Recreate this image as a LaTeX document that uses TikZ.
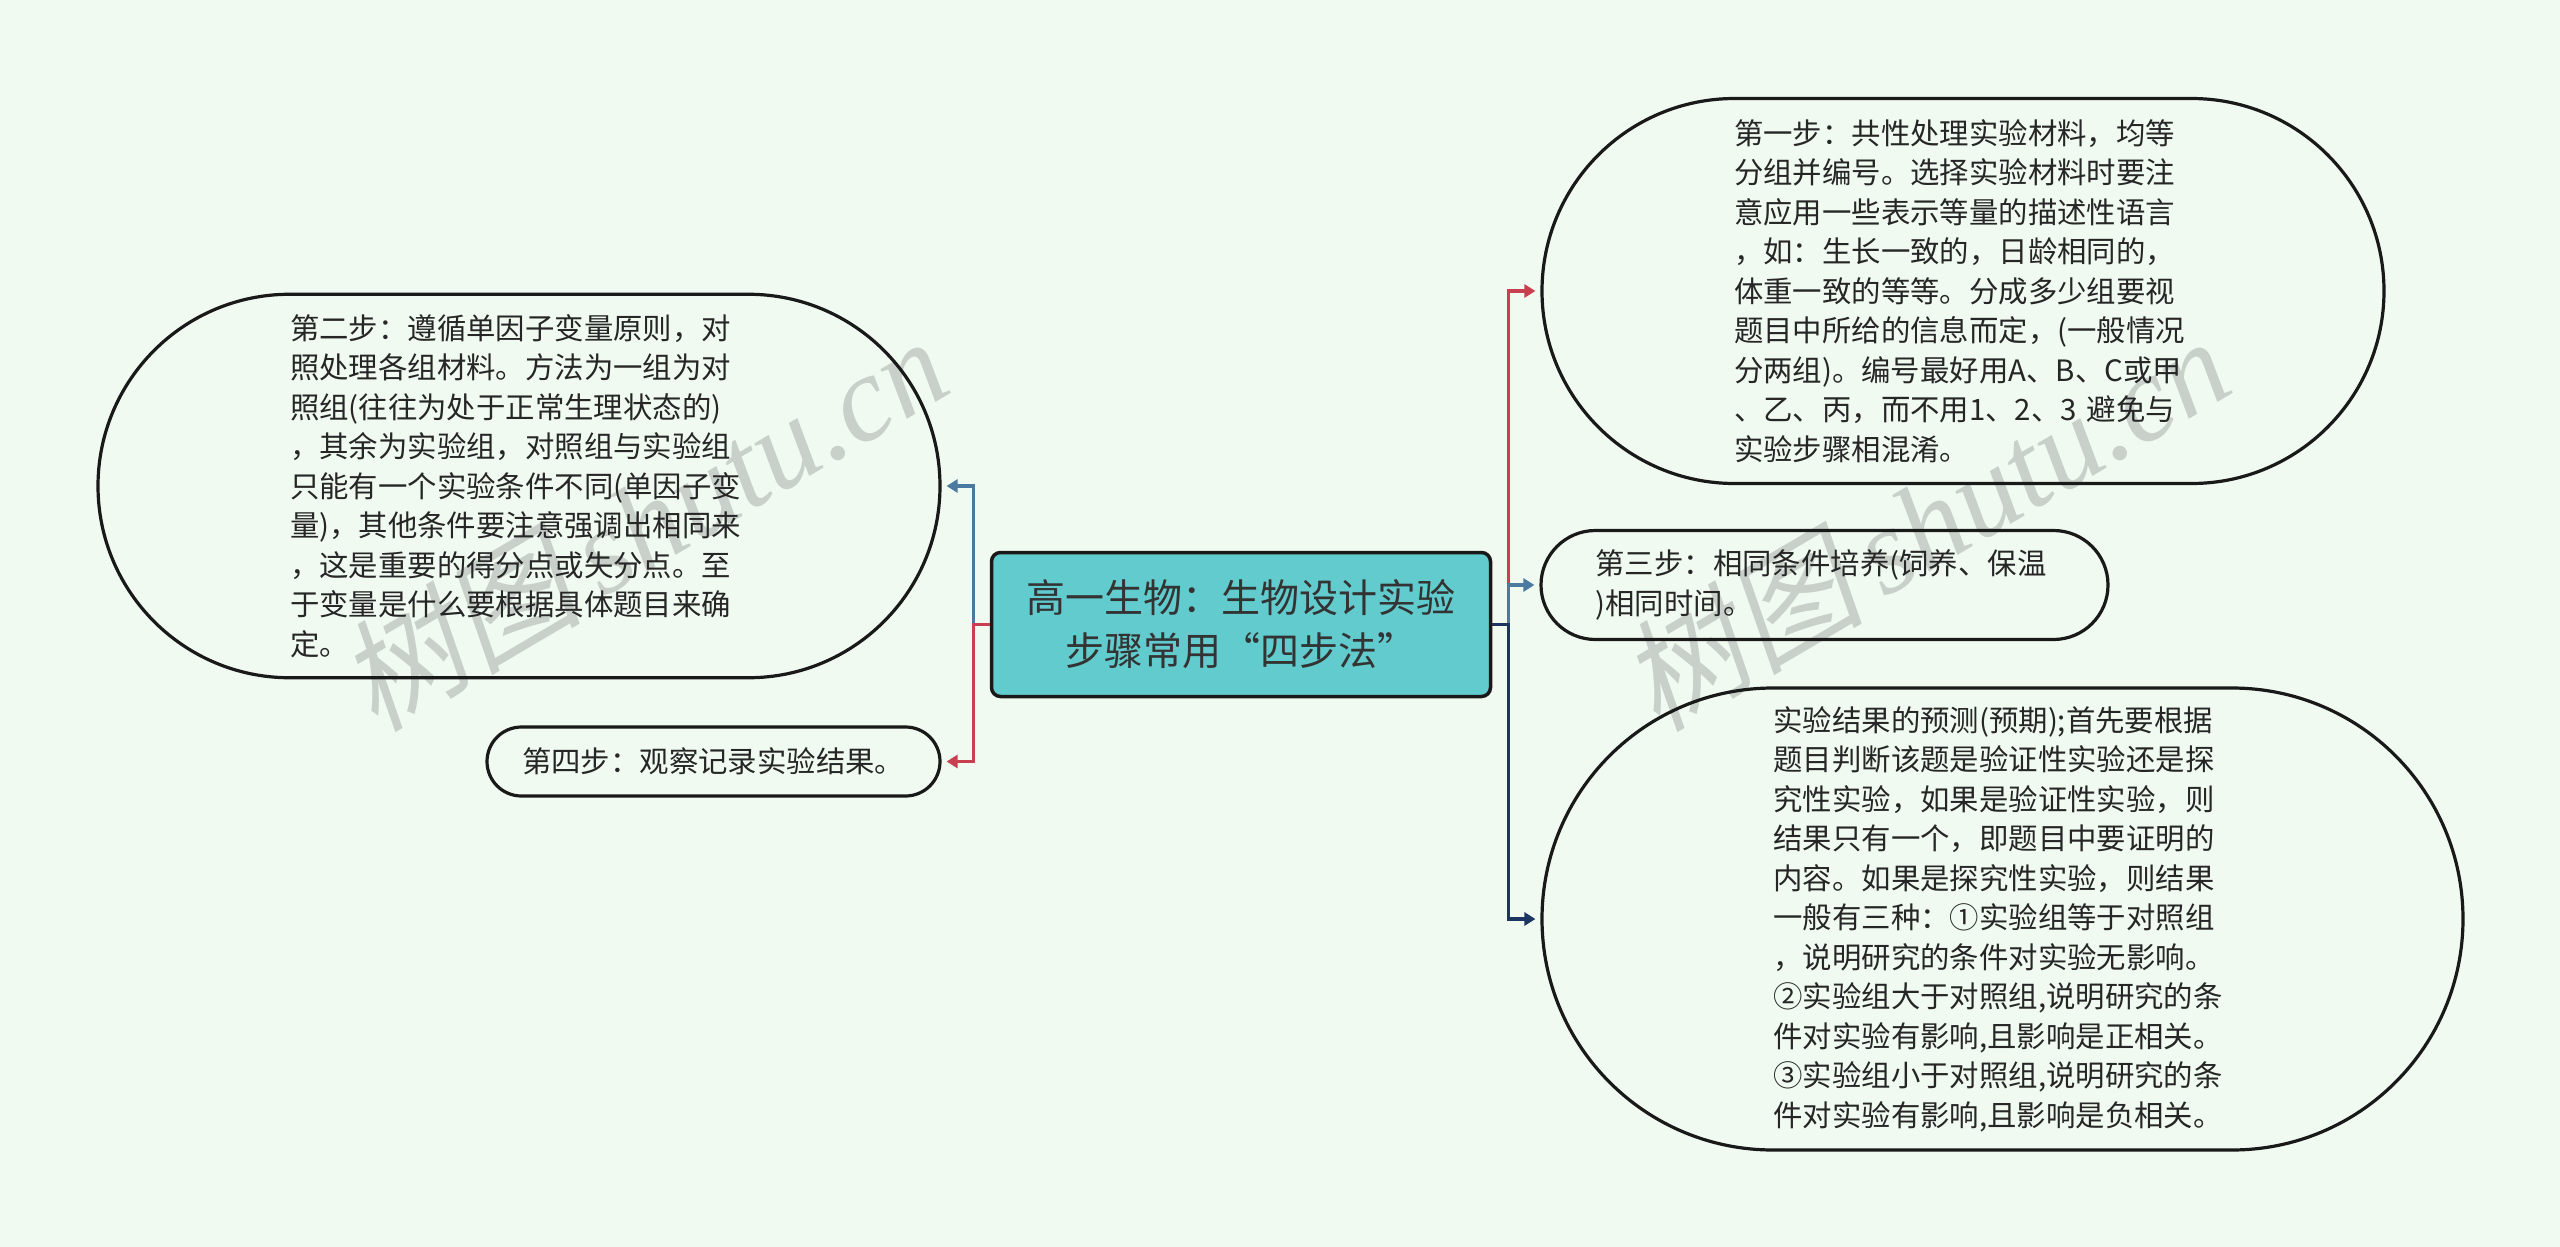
\documentclass[tikz,border=0pt]{standalone}
\usepackage{fontspec}
\setmainfont{Noto Sans CJK SC}
\newfontfamily\markcjk[FakeSlant=0.2]{Noto Sans CJK SC}
\newfontfamily\marklatin{Liberation Serif}[ItalicFont={Liberation Serif Italic}]
\usepackage{xcolor}
\usepackage{tikz}
\usetikzlibrary{arrows.meta, shapes.misc}
\newcommand{\fwc}{\char"FF0C\relax}
\newcommand{\fwk}{\char"FF1A\relax}
\definecolor{pagebg}{HTML}{F0FAF0}
\definecolor{rootfill}{HTML}{62CBCD}
\definecolor{linkred}{HTML}{C8404F}
\definecolor{linkblue}{HTML}{4A7A9F}
\definecolor{linknavy}{HTML}{1C3562}
\definecolor{markgrey}{HTML}{C8D0C9}
\tikzset{
  root/.style = {draw=black!90, fill=rootfill, rounded corners=9pt, line width=3.5pt,
    minimum width=499pt, minimum height=144pt, inner sep=0pt, align=center, text=black!80,
    font=\fontsize{39}{53}\selectfont},
  stepbox/.style = {rounded rectangle, draw=black!90, line width=3.2pt, inner sep=0pt,
    text width=458pt, align=left, text=black!85, font=\fontsize{29.4}{39.5}\selectfont},
  link/.style = {line width=3.4pt, -{Triangle[length=11pt,width=13pt]}, shorten >=5pt},
  markstamp/.style = {rotate=30.5, text=markgrey, inner sep=0pt, font=\fontsize{122}{126}\selectfont},
}
\begin{document}
\begin{tikzpicture}[x=1pt, y=-1pt]
  \path[fill=pagebg, use as bounding box] (0,0) rectangle (2560,1247);

  % watermark
  \node[markstamp] (mark1) at (642,522) {\markcjk 树图\,\marklatin\itshape shutu.cn};
  \node[markstamp] (mark2) at (1924,522) {\markcjk 树图\,\marklatin\itshape shutu.cn};

  \node[root] (topic) at (1241,624.5) {高一生物\fwk 生物设计实验\\步骤常用“四步法”};

  \node[stepbox, minimum width=842pt, minimum height=385pt] (first) at (1963,291) {%
    第一步\fwk 共性处理实验材料\fwc 均等\\
    分组并编号。选择实验材料时要注\\
    意应用一些表示等量的描述性语言\\
    \fwc 如\fwk 生长一致的\fwc 日龄相同的\fwc \\
    体重一致的等等。分成多少组要视\\
    题目中所给的信息而定\fwc (一般情况\\
    分两组)。编号最好用A、B、C或甲\\
    、乙、丙\fwc 而不用1、2、3 避免与\\
    实验步骤相混淆。};
  \node[stepbox, minimum width=842pt, minimum height=383.5pt] (second) at (519,486) {%
    第二步\fwk 遵循单因子变量原则\fwc 对\\
    照处理各组材料。方法为一组为对\\
    照组(往往为处于正常生理状态的)\\
    \fwc 其余为实验组\fwc 对照组与实验组\\
    只能有一个实验条件不同(单因子变\\
    量)\fwc 其他条件要注意强调出相同来\\
    \fwc 这是重要的得分点或失分点。至\\
    于变量是什么要根据具体题目来确\\
    定。};
  \node[stepbox, minimum width=567pt, minimum height=109pt] (third) at (1824.5,585) {%
    第三步\fwk 相同条件培养(饲养、保温\\
    )相同时间。};
  \node[stepbox, text width=383pt, minimum width=453pt, minimum height=69pt] (fourth) at (713.5,761.5) {%
    第四步\fwk 观察记录实验结果。};
  \node[stepbox, minimum width=921pt, minimum height=462pt] (result) at (2002.5,919) {%
    实验结果的预测(预期);首先要根据\\
    题目判断该题是验证性实验还是探\\
    究性实验\fwc 如果是验证性实验\fwc 则\\
    结果只有一个\fwc 即题目中要证明的\\
    内容。如果是探究性实验\fwc 则结果\\
    一般有三种\fwk ①实验组等于对照组\\
    \fwc 说明研究的条件对实验无影响。\\
    ②实验组大于对照组,说明研究的条\\
    件对实验有影响,且影响是正相关。\\
    ③实验组小于对照组,说明研究的条\\
    件对实验有影响,且影响是负相关。};

  % links, left side then right side
  \draw[link, linkblue] (topic.west) -- ++(-16.5,0) |- (second.east);
  \draw[link, linkred] (topic.west) -- ++(-16.5,0) |- (fourth.east);
  \draw[link, linkred] (topic.east) -- ++(16,0) |- (first.west);
  \draw[link, linkblue] (topic.east) -- ++(16,0) |- (third.west);
  \draw[link, linknavy] (topic.east) -- ++(16,0) |- (result.west);
\end{tikzpicture}
\end{document}
